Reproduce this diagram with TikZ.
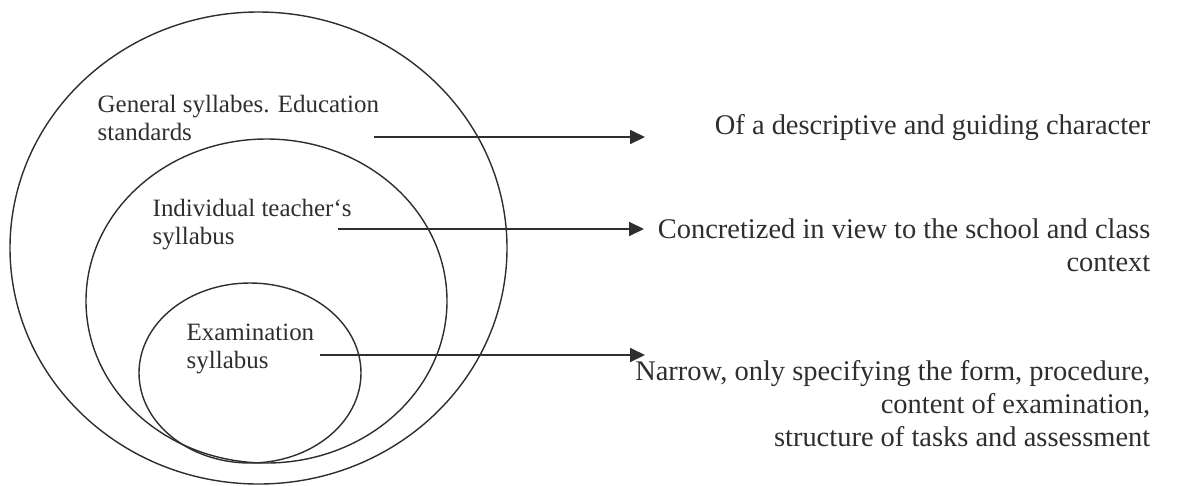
\documentclass[tikz,border=0pt]{standalone}
\usepackage{fontspec}
\setmainfont{Liberation Serif}
\usetikzlibrary{arrows.meta}
\definecolor{inkgray}{HTML}{2E2E2E}

\tikzset{
  inlabel/.style={font=\fontsize{14.2}{16.2}\selectfont, align=left, anchor=base west, inner sep=0pt},
  outlabel/.style={font=\fontsize{16.2}{18.7}\selectfont, align=right, anchor=base east, inner sep=0pt},
  levelarrow/.style={-{Triangle[length=8.5pt, width=8pt]}}
}

\begin{document}
\begin{tikzpicture}[x=0.02cm, y=-0.02cm, inkgray, line width=0.8pt]
\useasboundingbox (0,0) rectangle (1191,485);

% nested levels: general, teacher, examination
\draw (258.5,248) ellipse (248.5 and 236);
\draw (266.5,301) ellipse (180.5 and 162);
\draw (250,373) ellipse (111 and 90);

% labels inside the levels (anchored at the last baseline)
\node[inlabel] (gen) at (97,140.5) {General syllabes. Education\\standards};
\node[inlabel] (teach) at (152,244.5) {Individual teacher‘s\\syllabus};
\node[inlabel] (exam) at (186,368.5) {Examination\\syllabus};

% characteristics on the right
\node[outlabel] (desc) at (1151,134) {Of a descriptive and guiding character};
\node[outlabel] (conc) at (1151,271) {Concretized in view to the school and class\\context};
\node[outlabel] (narr) at (1151,446) {Narrow, only specifying the form, procedure,\\content of examination,\\structure of tasks and assessment};

% arrows from each level
\coordinate (genA) at (374,137);
\coordinate (genB) at (645,137);
\coordinate (teachA) at (338,229);
\coordinate (teachB) at (644,229);
\coordinate (examA) at (320,355);
\coordinate (examB) at (645,355);
\draw[levelarrow] (genA) -- (genB);
\draw[levelarrow] (teachA) -- (teachB);
\draw[levelarrow] (examA) -- (examB);
\end{tikzpicture}
\end{document}
